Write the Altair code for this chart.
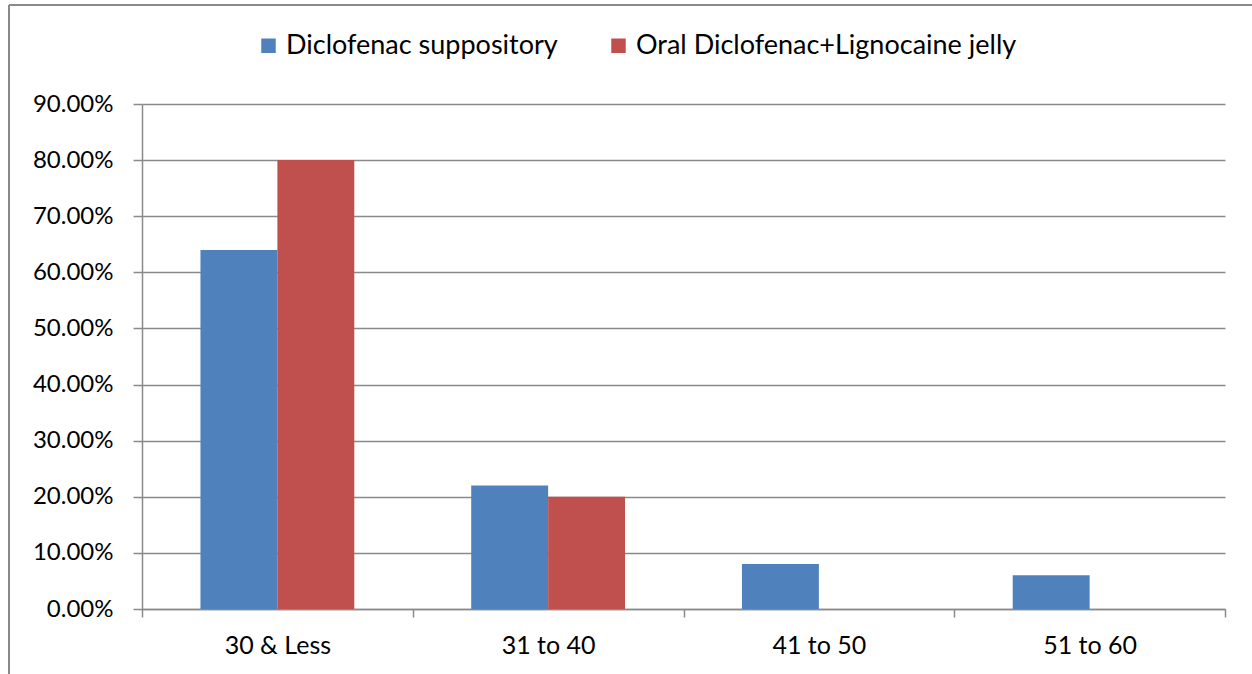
import altair as alt
import pandas as pd

# Share of patients in each age group, by analgesic regimen (percent)
age_groups = ["30 & Less", "31 to 40", "41 to 50", "51 to 60"]
series_names = ["Diclofenac suppository", "Oral Diclofenac+Lignocaine jelly"]
suppository_pct = [64, 22, 8, 6]
oral_jelly_pct = [80, 20, 0, 0]
y_ticks = [0, 0.1, 0.2, 0.3, 0.4, 0.5, 0.6, 0.7, 0.8, 0.9]

rows = []
for name, vals in zip(series_names, [suppository_pct, oral_jelly_pct]):
    for grp, v in zip(age_groups, vals):
        rows.append({"age": grp, "series": name, "value": v / 100})
df = pd.DataFrame(rows)

FONT = "Lato"
GRID = "#8a8a8a"

bars = alt.Chart(df).mark_bar().encode(
    x=alt.X(
        "age:N",
        sort=age_groups,
        scale=alt.Scale(paddingInner=0, paddingOuter=0),
        axis=alt.Axis(
            title=None, labelAngle=0, tickBand="extent", grid=False,
            domainColor=GRID, tickColor=GRID, tickSize=8, tickWidth=1.5,
            domainWidth=1.5, labelPadding=16, labelFontSize=25,
            labelColor="black", labelFont=FONT,
        ),
    ),
    xOffset=alt.XOffset(
        "series:N", sort=series_names,
        scale=alt.Scale(paddingInner=0, paddingOuter=0.76),
    ),
    y=alt.Y(
        "value:Q",
        scale=alt.Scale(domain=[0, 0.9], nice=False),
        axis=alt.Axis(
            title=None, format=".2%", values=y_ticks,
            gridColor=GRID, gridWidth=1.5, domainColor=GRID, domainWidth=1.5,
            tickColor=GRID, tickWidth=1.5, tickSize=9, labelPadding=20,
            labelFontSize=24, labelColor="black", labelFont=FONT,
        ),
    ),
    color=alt.Color(
        "series:N",
        sort=series_names,
        scale=alt.Scale(domain=series_names, range=["#4F81BD", "#C0504D"]),
        legend=alt.Legend(
            title=None, orient="none", direction="horizontal",
            legendX=113, legendY=-72, padding=0,
            symbolType="square", symbolSize=210, symbolStrokeWidth=0,
            labelFontSize=27, labelFont=FONT, labelColor="black",
            labelLimit=1000, columnPadding=47, symbolOffset=0, labelOffset=4,
        ),
    ),
)

# Outer frame around the figure (left and top edges)
frame_data = pd.DataFrame({"k": [0]})
frame_top = alt.Chart(frame_data).mark_rule(color="#8a8a8a", strokeWidth=2).encode(
    x=alt.value(-133), x2=alt.value(1200), y=alt.value(-99)
)
frame_left = alt.Chart(frame_data).mark_rule(color="#8a8a8a", strokeWidth=2).encode(
    x=alt.value(-133), y=alt.value(-99), y2=alt.value(600)
)

chart = (
    alt.layer(bars, frame_top, frame_left)
    .properties(
        width=1083, height=505,
        autosize=alt.AutoSizeParams(type="none"),
        padding={"left": 142, "top": 104, "right": 27, "bottom": 65},
        background="white",
    )
    .configure_view(strokeWidth=0)
)

chart.save("out.html", embed_options={"renderer": "svg", "actions": False})
